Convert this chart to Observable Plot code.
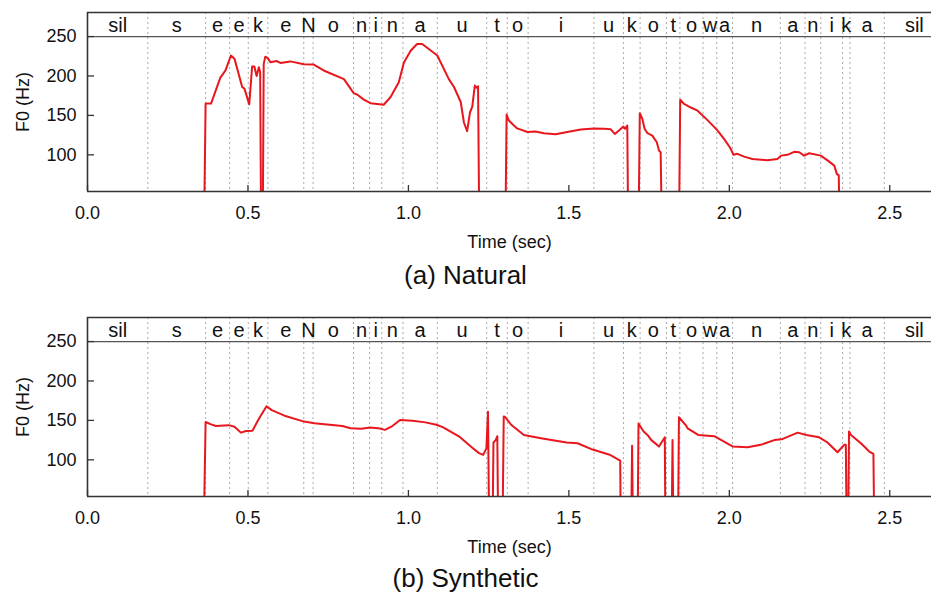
<!DOCTYPE html>
<html><head><meta charset="utf-8">
<script src="https://cdn.jsdelivr.net/npm/d3@7"></script>
<script src="https://cdn.jsdelivr.net/npm/@observablehq/plot@0.6"></script>
<style>
body{margin:0;background:#fff;font-family:"Liberation Sans",Arial,Helvetica,sans-serif;overflow:hidden;width:931px}
.cap{text-align:center;font-size:26px;color:#111}
</style></head><body>
<div id="c1"></div><div class="cap" style="height:55px;line-height:50px">(a) Natural</div>
<div id="c2"></div><div class="cap" style="height:38px;line-height:46px">(b) Synthetic</div>
<script>
// phoneme labels and boundaries (sec)
const phonemes = ["sil","s","e","e","k","e","N","o","n","i","n","a","u","t","o","i","u","k","o","t","o","w","a","n","a","n","i","k","a","sil"];
const boundaries = [0.188,0.368,0.443,0.501,0.562,0.674,0.703,0.829,0.879,0.917,0.983,1.090,1.244,1.308,1.373,1.578,1.670,1.722,1.804,1.846,1.918,1.961,2.010,2.159,2.236,2.285,2.353,2.376,2.483];
const utteranceEnd = 2.67;
const xTicks = [0, 0.5, 1.0, 1.5, 2.0, 2.5];
const yTicks = [100, 150, 200, 250];
const xDomain = [0, 2.63];
const yDomain = [53.5, 280.5];
const bandLine = 250;

// F0 contours [time sec, F0 Hz]; 0 = unvoiced
const naturalF0 = [[0.363,0],[0.368,165],[0.385,165],[0.40,182],[0.414,198],[0.43,207],[0.447,226],[0.458,222],[0.482,186],[0.489,184],[0.504,164],[0.513,212],[0.52,212],[0.527,200],[0.534,211],[0.538,205],[0.541,0],[0.546,0],[0.549,215],[0.554,224.5],[0.561,223],[0.570,217.5],[0.589,219],[0.601,216.5],[0.632,218.5],[0.674,215],[0.705,214.5],[0.736,207],[0.799,196],[0.83,178],[0.84,176.5],[0.861,170],[0.882,165.5],[0.923,163.5],[0.944,173],[0.97,192],[0.986,217],[1.007,232],[1.027,240.5],[1.043,240.5],[1.09,226],[1.126,196],[1.142,186],[1.163,167],[1.173,141],[1.183,130],[1.192,154],[1.199,161],[1.207,188],[1.212,185],[1.217,187],[1.221,0],[1.302,0],[1.306,151],[1.313,143.5],[1.324,139],[1.339,133.5],[1.371,129],[1.396,129.5],[1.422,127.5],[1.459,126],[1.495,129],[1.537,132],[1.578,133.5],[1.61,133],[1.63,132.5],[1.643,126.5],[1.656,131],[1.670,135.8],[1.675,133],[1.682,137],[1.685,0],[1.717,0],[1.721,152.7],[1.729,145.5],[1.736,133],[1.745,127.4],[1.760,124.4],[1.774,116],[1.781,105.3],[1.786,103.3],[1.790,0],[1.843,0],[1.847,170],[1.859,164.5],[1.88,160],[1.901,156],[1.932,144],[1.963,131],[1.984,120],[2.003,108.7],[2.013,100],[2.025,101.3],[2.046,97.7],[2.072,94.8],[2.119,93.2],[2.15,94.8],[2.161,99],[2.181,100],[2.202,103.8],[2.218,103.3],[2.233,99],[2.249,102],[2.285,99],[2.306,93],[2.327,86.3],[2.335,75.8],[2.341,74],[2.344,0]];

const syntheticF0 = [[0.362,0],[0.368,148],[0.385,145],[0.40,143],[0.44,144],[0.458,142],[0.478,134.5],[0.494,136.5],[0.514,137],[0.534,152],[0.558,168],[0.574,163],[0.614,156],[0.675,148.5],[0.707,146.5],[0.794,143],[0.82,140],[0.853,139.5],[0.88,141],[0.907,140],[0.927,138],[0.947,142],[0.974,150.5],[1.013,149.5],[1.053,147.5],[1.087,144.5],[1.107,141.5],[1.16,129],[1.20,115],[1.22,108.5],[1.233,106.3],[1.243,114.5],[1.248,161],[1.252,0],[1.262,0],[1.265,122],[1.272,125],[1.277,130],[1.280,0],[1.293,0],[1.297,155],[1.302,154],[1.32,144.5],[1.36,131.5],[1.413,127.5],[1.493,122],[1.527,121],[1.574,113],[1.627,106.5],[1.653,100.7],[1.660,99],[1.662,0],[1.694,0],[1.697,118],[1.700,0],[1.714,0],[1.717,146],[1.733,136],[1.745,131.6],[1.757,125],[1.781,116.8],[1.799,128.6],[1.801,0],[1.820,0],[1.823,125],[1.826,0],[1.840,0],[1.843,154],[1.866,143],[1.87,140],[1.903,131.6],[1.953,130],[2.01,117],[2.057,116],[2.098,119],[2.14,125],[2.163,126],[2.213,134.5],[2.24,131.6],[2.28,128.6],[2.306,122],[2.337,109.6],[2.358,119],[2.363,119],[2.366,0],[2.370,0],[2.373,136],[2.379,131.6],[2.41,121],[2.436,110.5],[2.449,107.5],[2.452,0]];

const starts = [0, ...boundaries];
const ends = [...boundaries, utteranceEnd];
const segments = phonemes.map((p, i) => ({label: p, mid: (starts[i] + ends[i]) / 2}));

const W = 931, H = 250, ML = 87, MT = 12, MB = 59;
const plotW = W - ML, plotH = H - MT - MB;
const font = '"Liberation Sans", Arial, Helvetica, sans-serif';

function panel(f0) {
  const data = f0.map(([t, f]) => ({t, f}));
  return Plot.plot({
    width: W, height: H,
    marginLeft: ML, marginRight: 0, marginTop: MT, marginBottom: MB,
    style: {fontFamily: font, fontSize: "18px", background: "#fff", color: "#111", display: "block", overflow: "visible"},
    x: {domain: xDomain, label: null},
    y: {domain: yDomain, label: null},
    marks: [
      Plot.ruleX(boundaries, {stroke: "#aaa", strokeWidth: 1, strokeDasharray: "2,3"}),
      Plot.ruleY([bandLine], {stroke: "#555", strokeWidth: 1.2}),
      Plot.line(data, {x: "t", y: "f", stroke: "#e8161d", strokeWidth: 2, clip: true}),
      Plot.ruleX(xTicks, {stroke: "#333", strokeWidth: 1.3, insetTop: plotH - 6}),
      Plot.ruleY(yTicks, {stroke: "#333", strokeWidth: 1.3, insetRight: plotW - 7}),
      Plot.ruleY([yDomain[0]], {stroke: "#333", strokeWidth: 1.6}),
      Plot.ruleY([yDomain[1]], {stroke: "#333", strokeWidth: 1.6}),
      Plot.ruleX([xDomain[0]], {stroke: "#333", strokeWidth: 1.6}),
      Plot.text(segments, {x: "mid", y: 264, text: "label", fontSize: 20, fill: "#111", textAnchor: "middle", lineAnchor: "middle"}),
      Plot.axisX({ticks: xTicks, tickSize: 0, tickPadding: 15, tickFormat: d3.format(".1f"), label: null, fontSize: 18}),
      Plot.axisY({ticks: yTicks, tickSize: 0, tickPadding: 11, label: null, fontSize: 18}),
      Plot.text(["Time (sec)"], {frameAnchor: "bottom", dy: 51, text: d => d, fontSize: 18, lineAnchor: "middle", fill: "#111"}),
      Plot.text(["F0 (Hz)"], {frameAnchor: "left", dx: -64, rotate: -90, text: d => d, fontSize: 18, lineAnchor: "middle", textAnchor: "middle", fill: "#111"})
    ]
  });
}

document.getElementById("c1").appendChild(panel(naturalF0));
document.getElementById("c2").appendChild(panel(syntheticF0));
</script>
</body></html>
